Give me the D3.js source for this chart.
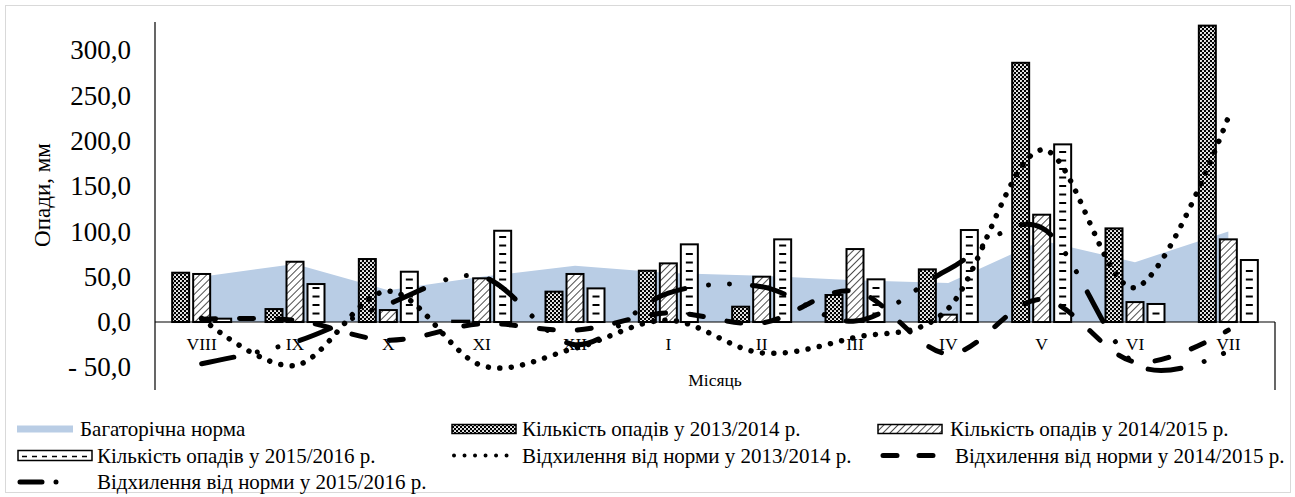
<!DOCTYPE html>
<html>
<head>
<meta charset="utf-8">
<script src="https://cdn.jsdelivr.net/npm/d3@7"></script>
<style>
  body { margin: 0; background: #fff; }
  svg { display: block; }
  text { font-family: "Liberation Serif", "Tinos", "Times New Roman", Times, "DejaVu Serif", "Noto Serif", serif; fill: #000; }
</style>
</head>
<body>
<svg id="chart" width="1295" height="497"></svg>
<script>
// Months of the hydrological year (August .. July)
const months = ["VIII", "IX", "X", "XI", "XII", "I", "II", "III", "IV", "V", "VI", "VII"];

// Long-term monthly norm, mm
const norm = [50, 64, 35, 50, 62, 54, 51, 46, 43, 90, 66, 100];

// Monthly precipitation, mm
const rain2013 = [54.4, 14.3, 69.5, 1.5, 33.5, 56.6, 16.9, 29.8, 58.1, 286.0, 103.3, 327.0];
const rain2014 = [53.0, 66.5, 13.2, 48.2, 53.0, 64.7, 50.0, 80.5, 8.1, 118.4, 22.0, 91.2];
const rain2015 = [3.7, 41.9, 55.5, 100.7, 37.1, 85.7, 91.2, 47.1, 101.5, 196.0, 19.9, 68.4];

// Deviation from the norm, mm
const dev2013 = [4, -48, 34, -48, -29, 2, -34, -17, 15, 190, 38, 226];
const dev2014 = [3, 2, -20, -2, -9, 10, -1, 34, -35, 25, -44, -9];
const dev2015 = [-46, -22, 20, 50, -25, 32, 39, 1, 58, 104, -46, -32];

// Axis ticks and texts
const yTicks = [-50, 0, 50, 100, 150, 200, 250, 300];
const yTitle = "Опади, мм";
const xTitle = "Місяць";
const legendNames = [
  "Багаторічна норма",
  "Кількість опадів у 2013/2014 р.",
  "Кількість опадів у 2014/2015 р.",
  "Кількість опадів у 2015/2016 р.",
  "Відхилення від норми у 2013/2014 р.",
  "Відхилення від норми у 2014/2015 р.",
  "Відхилення від норми у 2015/2016 р."
];

const svg = d3.select("#chart");
const plot = { left: 155, right: 1275, top: 22, bottom: 390 };

const x = d3.scaleBand().domain(months).range([plot.left, plot.right]).paddingInner(0).paddingOuter(0);
const y = d3.scaleLinear().domain([-75, 331]).range([plot.bottom, plot.top]);
const cx = m => x(m) + x.bandwidth() / 2;
const barW = 17, barStep = 21;

// outer chart border
svg.append("rect").attr("x", 5.5).attr("y", 5.5).attr("width", 1285).attr("height", 487)
  .attr("fill", "#fff").attr("stroke", "#d9d9d9").attr("stroke-width", 1);

// fill patterns
const defs = svg.append("defs");
const pWeave = defs.append("pattern").attr("id", "weave").attr("patternUnits", "userSpaceOnUse")
  .attr("width", 4).attr("height", 4);
pWeave.append("rect").attr("width", 4).attr("height", 4).attr("fill", "#000");
pWeave.append("circle").attr("cx", 1).attr("cy", 1).attr("r", 1.05).attr("fill", "#fff");
pWeave.append("circle").attr("cx", 3).attr("cy", 3).attr("r", 1.05).attr("fill", "#fff");

const pHatch = defs.append("pattern").attr("id", "hatch").attr("patternUnits", "userSpaceOnUse")
  .attr("width", 5).attr("height", 5).attr("patternTransform", "rotate(45)");
pHatch.append("rect").attr("width", 5).attr("height", 5).attr("fill", "#fff");
pHatch.append("line").attr("x1", 0).attr("y1", 0).attr("x2", 0).attr("y2", 5)
  .attr("stroke", "#000").attr("stroke-width", 1.4);

// norm area
const area = d3.area().x((d, i) => cx(months[i])).y0(y(0)).y1(d => y(d));
svg.append("path").datum(norm).attr("d", area).attr("fill", "#b9cde5");

// bars
const series = [
  { vals: rain2013, fill: "url(#weave)", off: -barStep },
  { vals: rain2014, fill: "url(#hatch)", off: 0 },
  { vals: rain2015, fill: "#fff", off: barStep }
];
series.forEach((s, k) => {
  const g = svg.append("g");
  g.selectAll("rect").data(s.vals).join("rect")
    .attr("x", (d, i) => cx(months[i]) + s.off - barW / 2)
    .attr("y", d => y(d))
    .attr("width", barW)
    .attr("height", d => y(0) - y(d))
    .attr("fill", s.fill)
    .attr("stroke", "#000").attr("stroke-width", 2);
  if (k === 2) {
    // horizontal dash texture of the 2015/2016 bars
    s.vals.forEach((d, i) => {
      const xc = cx(months[i]) + s.off;
      for (let yy = y(0) - 8.5; yy > y(d) + 3; yy -= 8.5) {
        g.append("line").attr("x1", xc - 3.5).attr("x2", xc + 3.5)
          .attr("y1", yy).attr("y2", yy).attr("stroke", "#000").attr("stroke-width", 2);
      }
    });
  }
});

// axes
const yAxis = d3.axisLeft(y).tickValues(yTicks).tickSize(0).tickPadding(24)
  .tickFormat(d => (d < 0 ? "- " : "") + Math.abs(d).toFixed(1).replace(".", ","));
svg.append("g").attr("transform", `translate(${plot.left},0)`).call(yAxis)
  .call(g => g.select(".domain").remove())
  .attr("font-family", null)
  .selectAll("text").style("font-size", "27px").attr("fill", "#000");

const xAxis = d3.axisBottom(x).tickSize(0).tickPadding(16);
svg.append("g").attr("transform", `translate(0,${y(0)})`).call(xAxis)
  .call(g => g.select(".domain").remove())
  .attr("font-family", null)
  .selectAll("text").style("font-size", "17.5px").attr("fill", "#000");

svg.append("line").attr("x1", plot.left).attr("x2", plot.left).attr("y1", plot.top).attr("y2", plot.bottom)
  .attr("stroke", "#000").attr("stroke-width", 1.2);
svg.append("line").attr("x1", plot.left).attr("x2", plot.right).attr("y1", y(0)).attr("y2", y(0))
  .attr("stroke", "#000").attr("stroke-width", 1.2);
svg.append("line").attr("x1", plot.right).attr("x2", plot.right).attr("y1", y(0)).attr("y2", plot.bottom)
  .attr("stroke", "#000").attr("stroke-width", 1.2);

// deviation lines
const line = d3.line().x((d, i) => cx(months[i])).y(d => y(d)).curve(d3.curveCardinal.tension(0));
const lineStyles = [
  { vals: dev2013, dash: "0.01 11.5", w: 5.5 },
  { vals: dev2014, dash: "14 24", w: 5 },
  { vals: dev2015, dash: "33 24 0.01 21 0.01 23", w: 5 }
];
lineStyles.forEach(s => {
  svg.append("path").datum(s.vals).attr("d", line)
    .attr("fill", "none").attr("stroke", "#000").attr("stroke-width", s.w)
    .attr("stroke-linecap", "round").attr("stroke-dasharray", s.dash);
});

// axis titles
svg.append("text").attr("transform", "translate(42,195) rotate(-90)")
  .attr("text-anchor", "middle").attr("dominant-baseline", "central")
  .style("font-size", "23px").text(yTitle);
svg.append("text").attr("x", 715).attr("y", 380).attr("text-anchor", "middle")
  .attr("dominant-baseline", "central").style("font-size", "17.5px").text(xTitle);

// legend
const rows = [429, 455.5, 482];
const lg = svg.append("g");
const legText = (tx, ty, s) => lg.append("text").attr("x", tx).attr("y", ty)
  .attr("dominant-baseline", "central").style("font-size", "21px").text(s);

lg.append("rect").attr("x", 17).attr("y", rows[0] - 3.5).attr("width", 56).attr("height", 7).attr("fill", "#b9cde5");
legText(80, rows[0], legendNames[0]);

lg.append("rect").attr("x", 452).attr("y", rows[0] - 4.5).attr("width", 64).attr("height", 9)
  .attr("fill", "url(#weave)").attr("stroke", "#000").attr("stroke-width", 1.5);
legText(522, rows[0], legendNames[1]);

lg.append("rect").attr("x", 878).attr("y", rows[0] - 4.5).attr("width", 64).attr("height", 9)
  .attr("fill", "url(#hatch)").attr("stroke", "#000").attr("stroke-width", 1.5);
legText(950, rows[0], legendNames[2]);

lg.append("rect").attr("x", 18).attr("y", rows[1] - 5).attr("width", 74).attr("height", 10)
  .attr("fill", "#fff").attr("stroke", "#000").attr("stroke-width", 1.5);
lg.append("line").attr("x1", 22).attr("x2", 89).attr("y1", rows[1] + 1).attr("y2", rows[1] + 1)
  .attr("stroke", "#000").attr("stroke-width", 1.5).attr("stroke-dasharray", "5 5");
legText(97, rows[1], legendNames[3]);

lg.append("line").attr("x1", 454).attr("x2", 516).attr("y1", rows[1]).attr("y2", rows[1])
  .attr("stroke", "#000").attr("stroke-width", 4).attr("stroke-linecap", "round").attr("stroke-dasharray", "0.01 10.5");
legText(522, rows[1], legendNames[4]);

lg.append("line").attr("x1", 883).attr("x2", 945).attr("y1", rows[1]).attr("y2", rows[1])
  .attr("stroke", "#000").attr("stroke-width", 5).attr("stroke-linecap", "round").attr("stroke-dasharray", "14 22");
legText(955, rows[1], legendNames[5]);

lg.append("line").attr("x1", 20).attr("x2", 60).attr("y1", rows[2]).attr("y2", rows[2])
  .attr("stroke", "#000").attr("stroke-width", 5).attr("stroke-linecap", "round").attr("stroke-dasharray", "22 14 0.01 40");
legText(97, rows[2], legendNames[6]);
</script>
</body>
</html>
